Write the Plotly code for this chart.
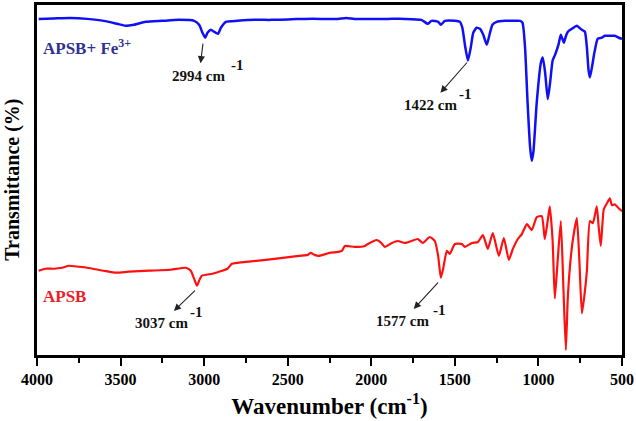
import plotly.graph_objects as go

# Wavenumber (cm^-1) and transmittance (arbitrary units)
blue_wn = [3990, 3900, 3800, 3700, 3600, 3520, 3470, 3420, 3350, 3250, 3150, 3060, 3030, 3010,
           2994, 2980, 2960, 2940, 2917, 2900, 2870, 2800, 2700, 2600, 2500, 2400, 2300, 2200,
           2150, 2100, 2000, 1900, 1800, 1700, 1662, 1640, 1600, 1584, 1560, 1500, 1470, 1455,
           1440, 1422, 1405, 1390, 1370, 1350, 1330, 1309, 1290, 1275, 1250, 1200, 1150, 1110,
           1095, 1080, 1065, 1050, 1040, 1030, 1010, 985, 974, 960, 944, 930, 915, 900, 880,
           866, 848, 835, 824, 800, 770, 755, 740, 722, 710, 700, 692, 680, 665, 645, 620, 603,
           570, 543, 520, 500]
blue_T = [339, 339.5, 340, 339, 337, 334, 332, 333, 336, 337, 338, 337, 333, 325,
          320, 325, 328, 326, 324, 330, 336, 337, 338, 338, 338.5, 339, 339, 339,
          340, 339, 339, 339, 339, 338, 334, 337, 336, 333, 337, 337, 336, 330,
          313, 297, 310, 325, 330, 329, 323, 313, 325, 333, 336, 337, 337, 337,
          335, 310, 255, 210, 196, 205, 255, 295, 300, 285, 258, 275, 297, 303, 313,
          323, 315, 322, 326, 329, 332, 330, 328, 326, 310, 287, 280, 290, 305, 319, 320, 322,
          322, 322, 320, 319]

red_wn = [3990, 3950, 3900, 3850, 3809, 3750, 3700, 3600, 3527, 3450, 3330, 3200, 3109, 3080,
          3060, 3043, 3030, 3013, 2950, 2893, 2860, 2834, 2750, 2630, 2530, 2433, 2380, 2362,
          2340, 2313, 2250, 2200, 2176, 2158, 2100, 2038, 2020, 1967, 1940, 1919, 1877, 1841,
          1799, 1760, 1722, 1692, 1650, 1620, 1600, 1584, 1570, 1548, 1530, 1500, 1458, 1440,
          1398, 1362, 1332, 1303, 1273, 1237, 1207, 1177, 1153, 1123, 1099, 1069, 1040, 1010,
          980, 962, 945, 932, 915, 902, 885, 866, 850, 836, 825, 812, 795, 770, 755, 740, 725,
          710, 692, 674, 651, 640, 627, 609, 590, 573, 560, 543, 520, 500]
red_T = [85, 87, 87, 88, 90, 89, 88, 85, 83, 84, 85, 86, 88, 85,
         77, 70, 75, 80, 82, 85, 87, 92, 94, 96, 98, 100, 101, 103,
         101, 100, 103, 104, 105, 110, 109, 110, 112, 116, 113, 109, 113, 115,
         113, 115, 117, 113, 119, 115, 100, 78, 87, 105, 102, 112, 112, 109,
         113, 114, 121, 107, 123, 100, 118, 96, 107, 117, 122, 132, 126, 139,
         140, 117, 135, 150, 115, 57, 95, 135, 65, 5, 55, 88, 115, 138, 95, 42, 60,
         85, 135, 133, 150, 130, 110, 147, 153, 158, 151, 152, 148, 145]

x_ticks = [4000, 3500, 3000, 2500, 2000, 1500, 1000, 500]

# peak annotations: (arrow start wavenumber, arrow start T, label)
peak_wn = [3007, 1427, 3055, 1601]
peak_T = [314, 295, 65, 73]
peak_labels = ["2994 cm", "1422 cm", "3037 cm", "1577 cm"]

FONT = "Times New Roman, Liberation Serif, serif"

fig = go.Figure()
fig.add_trace(go.Scatter(x=blue_wn, y=blue_T, mode="lines", name="APSB+ Fe3+",
                         line=dict(color="#1010F5", width=2.5, shape="spline", smoothing=0.5)))
fig.add_trace(go.Scatter(x=red_wn, y=red_T, mode="lines", name="APSB",
                         line=dict(color="#FF1010", width=2.2, shape="spline", smoothing=0.5)))

ann = []
def txt(x, y, s, size=15, color="#111111", xanchor="center"):
    ann.append(dict(x=x, y=y, xref="x", yref="y", text=s, showarrow=False,
                    xanchor=xanchor, yanchor="middle",
                    font=dict(family=FONT, size=size, color=color, weight="bold")))

# arrow from peak to label (arrowhead on the label side)
offsets = [(-4, 32), (-37, 42), (-33, 32), (-35, 38)]
for wn, t, lab, (ax, ay) in zip(peak_wn, peak_T, peak_labels, offsets):
    ann.append(dict(x=wn, y=t, xref="x", yref="y", text=lab, showarrow=True,
                    ax=ax, ay=ay, arrowside="start", arrowhead=2, startarrowhead=2,
                    startarrowsize=1.3, arrowwidth=1.1, startstandoff=3,
                    arrowcolor="#222222",
                    font=dict(family=FONT, size=15, color="#111111", weight="bold")))

# superscripts "-1"
txt(2803, 292, "-1"); txt(1439, 263, "-1"); txt(3043, 43, "-1"); txt(1589, 45, "-1")

# series labels
txt(3976, 311, "APSB+ Fe<sup>3+</sup>", size=17, color="#2E3192", xanchor="left")
txt(3976, 59, "APSB", size=17, color="#EE1C25", xanchor="left")

# y axis title
ann.append(dict(x=-0.043, y=0.5, xref="paper", yref="paper", text="Transmittance (%)",
                textangle=-90, showarrow=False, xanchor="center", yanchor="middle",
                font=dict(family=FONT, size=20, color="black", weight="bold")))

fig.update_layout(
    width=636, height=421,
    margin=dict(l=37, r=12, t=2, b=66),
    paper_bgcolor="white", plot_bgcolor="white",
    showlegend=False,
    annotations=ann,
    xaxis=dict(range=[4000, 500], tickvals=x_ticks, ticktext=[str(v) for v in x_ticks],
               showline=True, linecolor="black", linewidth=2.5, mirror=True,
               ticks="outside", ticklen=8, tickwidth=2, tickcolor="black",
               minor=dict(dtick=250, ticks="outside", ticklen=5, tickwidth=2, tickcolor="black"),
               showgrid=False, zeroline=False,
               tickfont=dict(family=FONT, size=16, color="black", weight="bold"),
               title=dict(text="Wavenumber (cm<sup>-1</sup>)", standoff=11,
                          font=dict(family=FONT, size=23, color="black", weight="bold"))),
    yaxis=dict(range=[0, 353], showline=True, linecolor="black", linewidth=2.5, mirror=True,
               showticklabels=False, ticks="", showgrid=False, zeroline=False),
)

fig.write_html("out.html", config={"displayModeBar": False},
               post_script="document.body.style.margin='0';document.body.style.padding='0';")
